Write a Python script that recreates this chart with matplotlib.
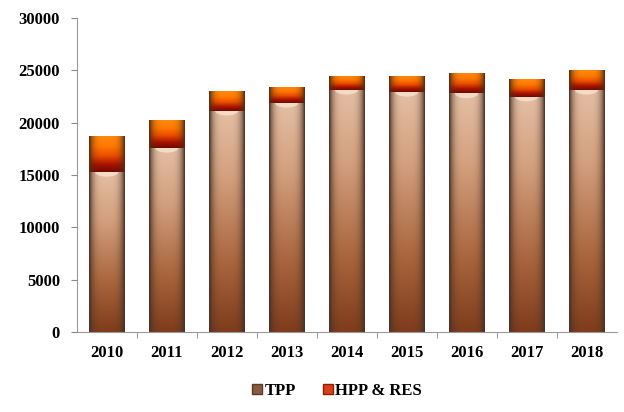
import numpy as np
import matplotlib.pyplot as plt
from matplotlib.patches import Patch, Ellipse
from matplotlib.colors import to_rgb

years = ['2010', '2011', '2012', '2013', '2014', '2015', '2016', '2017', '2018']
tpp = [15300, 17600, 21150, 21900, 23150, 22950, 22800, 22500, 23150]
hpp_res = [3450, 2700, 1900, 1550, 1350, 1550, 2000, 1700, 1900]

plt.rcParams['font.family'] = ['Liberation Serif', 'DejaVu Serif']
plt.rcParams['font.weight'] = 'bold'


def bar_gradient(stops, edge, n=120):
    # vertical colour ramp (bottom -> top) with darker sides like a cylinder
    pos = [p for p, _ in stops]
    cols = np.array([to_rgb(c) for _, c in stops])
    t = np.linspace(0, 1, n)
    ramp = np.stack([np.interp(t, pos, cols[:, k]) for k in range(3)], axis=1)
    s = np.linspace(-1, 1, 60)
    w = np.clip(np.abs(s) ** 4, 0, 1)[None, :, None]
    img = ramp[:, None, :] * (1 - w) + np.array(to_rgb(edge)) * w
    return img[::-1]


tpp_img = bar_gradient([(0, '#7e3c1c'), (0.3, '#a8643c'), (0.7, '#d3a07e'), (1, '#e4bfa4')], '#4a3226')
hpp_img = bar_gradient([(0, '#6e0a00'), (0.2, '#a81200'), (0.45, '#ec5000'), (0.7, '#ff7a00'), (1, '#ff8a10')], '#5a2a10')

fig = plt.figure(figsize=(6.24, 4.12), dpi=100)
ax = fig.add_axes([0.123, 0.194, 0.865, 0.762])

x = np.arange(len(years))
b1 = ax.bar(x, tpp, width=0.6, color='none', edgecolor='none')
b2 = ax.bar(x, hpp_res, width=0.6, bottom=tpp, color='none', edgecolor='none')

for bars, img in [(b1, tpp_img), (b2, hpp_img)]:
    for p in bars:
        x0, y0 = p.get_x(), p.get_y()
        im = ax.imshow(img, extent=(x0, x0 + p.get_width(), y0, y0 + p.get_height()),
                       aspect='auto', interpolation='bilinear', zorder=2)
        im.set_clip_path(p)

# light cap on top of the TPP cylinders
for p in b1:
    e = Ellipse((p.get_x() + p.get_width() / 2, p.get_y() + p.get_height()),
                p.get_width() * 0.65, 900, facecolor='#fff0e0', edgecolor='none',
                alpha=0.6, zorder=3)
    ax.add_patch(e)
    e.set_clip_path(p)

ax.set_xlim(-0.5, 8.5)
ax.set_ylim(0, 30000)
ax.set_yticks(range(0, 30001, 5000))
ax.set_xticks(x)
ax.set_xticklabels(years)
ax.set_xticks(np.arange(0.5, 8.5, 1), minor=True)
ax.tick_params(axis='x', which='major', length=0, pad=9, labelsize=12)
ax.tick_params(axis='x', which='minor', length=4, color='#888888')
ax.tick_params(axis='y', length=4, color='#888888', labelsize=12, pad=8)
for lab in ax.get_xticklabels() + ax.get_yticklabels():
    lab.set_fontweight('bold')

for side in ['top', 'right']:
    ax.spines[side].set_visible(False)
for side in ['left', 'bottom']:
    ax.spines[side].set_color('#999999')

handles = [Patch(facecolor='#8a5a40', edgecolor='#5a3a2a', label='TPP'),
           Patch(facecolor='#d8401a', edgecolor='#8a2000', label='HPP & RES')]
fig.legend(handles=handles, loc='lower center', bbox_to_anchor=(0.54, -0.005), ncol=2,
           frameon=False, handlelength=0.6, handleheight=0.6, handletextpad=0.15,
           columnspacing=1.6, prop={'weight': 'bold', 'size': 12})

fig.savefig('out.png', dpi=100)
